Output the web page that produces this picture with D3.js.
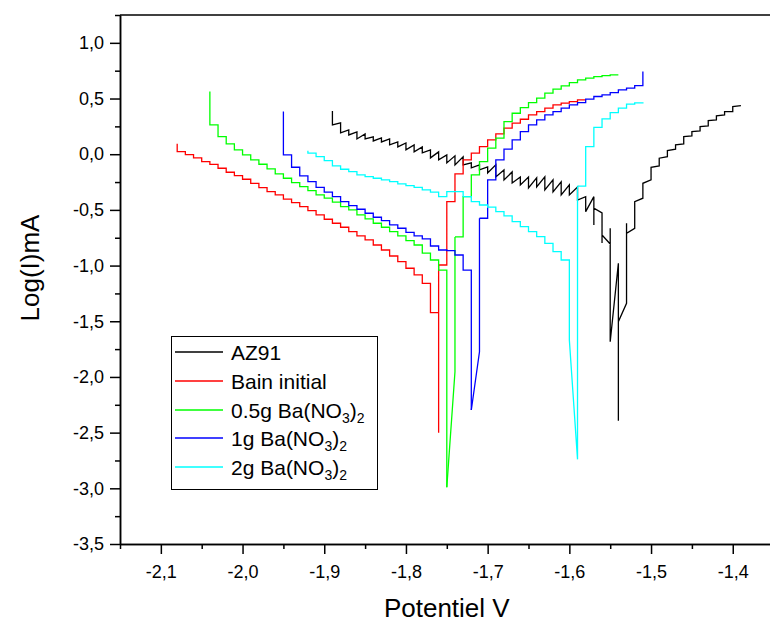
<!DOCTYPE html>
<html><head><meta charset="utf-8">
<script src="https://cdn.jsdelivr.net/npm/d3@7"></script>
<style>html,body{margin:0;padding:0;background:#fff;overflow:hidden}</style>
</head><body>
<svg id="chart" width="770" height="624"></svg>
<script>
// ---------- tick values ----------
const xTicks = [-2.1, -2.0, -1.9, -1.8, -1.7, -1.6, -1.5, -1.4];
const xMinor = [-2.15, -2.05, -1.95, -1.85, -1.75, -1.65, -1.55, -1.45, -1.35];
const yTicks = [-3.5, -3.0, -2.5, -2.0, -1.5, -1.0, -0.5, 0.0, 0.5, 1.0];
const yMinor = [-3.25, -2.75, -2.25, -1.75, -1.25, -0.75, -0.25, 0.25, 0.75, 1.25];

// ---------- legend ----------
const legendLabels = ["AZ91", "Bain initial", "0.5g Ba(NO_3)_2", "1g Ba(NO_3)_2", "2g Ba(NO_3)_2"];
const seriesColors = ["#000000", "#ff0000", "#00ff00", "#0000ff", "#00ffff"];

// ---------- AZ91 (polyline vertices: E / V, log I) ----------
const az91 = [
 [-1.89,0.389],[-1.89,0.263],[-1.88,0.281],[-1.88,0.191],[-1.87,0.218],[-1.87,0.173],
 [-1.86,0.200],[-1.86,0.137],[-1.85,0.182],[-1.85,0.137],[-1.84,0.155],[-1.84,0.119],
 [-1.83,0.146],[-1.83,0.110],[-1.82,0.137],[-1.82,0.084],[-1.81,0.110],[-1.81,0.066],
 [-1.80,0.101],[-1.80,0.039],[-1.79,0.084],[-1.79,0.021],[-1.78,0.066],[-1.78,0.012],
 [-1.77,0.039],[-1.77,-0.033],[-1.76,0.021],[-1.76,-0.051],[-1.75,-0.006],[-1.75,-0.078],
 [-1.74,-0.015],[-1.74,-0.096],[-1.73,-0.024],[-1.73,-0.096],[-1.72,-0.078],[-1.72,-0.123],
 [-1.71,-0.096],[-1.71,-0.141],[-1.70,-0.114],[-1.70,-0.168],[-1.69,-0.096],[-1.69,-0.204],
 [-1.68,-0.141],[-1.68,-0.231],[-1.67,-0.159],[-1.67,-0.258],[-1.66,-0.204],[-1.66,-0.276],
 [-1.65,-0.204],[-1.65,-0.303],[-1.64,-0.213],[-1.64,-0.294],[-1.63,-0.204],[-1.63,-0.321],
 [-1.62,-0.231],[-1.62,-0.339],[-1.61,-0.249],[-1.61,-0.366],[-1.60,-0.276],[-1.60,-0.366],
 [-1.59,-0.294],[-1.59,-0.411],[-1.58,-0.381],[-1.58,-0.516],[-1.57,-0.381],[-1.57,-0.635],
 [-1.57,-0.485],[-1.56,-0.527],[-1.56,-0.797],[-1.56,-0.725],[-1.55,-0.806],[-1.55,-0.665],
 [-1.55,-1.684],[-1.54,-0.979],[-1.54,-2.394],[-1.54,-1.504],[-1.53,-1.339],[-1.53,-0.620],
 [-1.53,-0.710],[-1.52,-0.665],[-1.52,-0.426],[-1.51,-0.395],[-1.51,-0.261],[-1.50,-0.231],
 [-1.50,-0.117],[-1.49,-0.105],[-1.49,-0.036],[-1.48,-0.022],[-1.48,0.032],[-1.47,0.045],
 [-1.47,0.084],[-1.46,0.093],[-1.46,0.158],[-1.45,0.164],[-1.45,0.203],[-1.44,0.209],
 [-1.44,0.248],[-1.43,0.254],[-1.43,0.302],[-1.42,0.308],[-1.42,0.344],[-1.41,0.353],
 [-1.41,0.383],[-1.40,0.383],[-1.40,0.428],[-1.39,0.437]
];

// ---------- Bain initial (staircase levels) ----------
const bainSteps = [
 [-2.08,0.093],[-2.08,0.023],[-2.07,-0.004],[-2.06,-0.033],[-2.05,-0.066],[-2.04,-0.092],
 [-2.03,-0.126],[-2.02,-0.162],[-2.01,-0.192],[-2.00,-0.225],[-1.99,-0.261],[-1.98,-0.300],
 [-1.97,-0.336],[-1.96,-0.366],[-1.95,-0.404],[-1.94,-0.435],[-1.93,-0.471],[-1.92,-0.507],
 [-1.91,-0.545],[-1.90,-0.584],[-1.89,-0.620],[-1.88,-0.656],[-1.87,-0.695],[-1.86,-0.734],
 [-1.85,-0.770],[-1.84,-0.815],[-1.83,-0.860],[-1.82,-0.914],[-1.81,-0.965],[-1.80,-1.024],
 [-1.79,-1.084],[-1.78,-1.159],[-1.77,-1.423],[-1.76,-1.464],[-1.76,-2.500],[-1.76,-0.995],
 [-1.75,-0.426],[-1.74,-0.177],[-1.73,-0.051],[-1.72,0.009],[-1.71,0.068],[-1.70,0.128],
 [-1.69,0.182],[-1.68,0.234],[-1.67,0.279],[-1.66,0.314],[-1.65,0.353],[-1.64,0.383],
 [-1.63,0.413],[-1.62,0.443],[-1.61,0.458],[-1.60,0.473],[-1.59,0.488],[-1.58,0.488]
];

// ---------- 0.5g Ba(NO3)2 ----------
const g05Cathodic = [
 [-2.04,0.563],[-2.04,0.263],[-2.03,0.158],[-2.02,0.093],[-2.01,0.039],[-2.00,-0.006],
 [-1.99,-0.051],[-1.98,-0.090],[-1.97,-0.132],[-1.96,-0.177],[-1.95,-0.216],[-1.94,-0.255],
 [-1.93,-0.291],[-1.92,-0.327],[-1.91,-0.366],[-1.90,-0.395],[-1.89,-0.431],[-1.88,-0.471],
 [-1.87,-0.500],[-1.86,-0.545],[-1.85,-0.581],[-1.84,-0.620],[-1.83,-0.656],[-1.82,-0.695],
 [-1.81,-0.734],[-1.80,-0.776],[-1.79,-0.815],[-1.78,-0.889],[-1.77,-0.950],[-1.76,-1.040],
 [-1.75,-2.990]
];
const g05Dip = [[-1.75,-2.990],[-1.74,-1.953],[-1.74,-0.743]];
const g05Anodic = [
 [-1.74,-0.743],[-1.73,-0.381],[-1.72,-0.186],[-1.71,-0.066],[-1.70,0.054],[-1.69,0.144],
 [-1.68,0.293],[-1.67,0.368],[-1.66,0.419],[-1.65,0.464],[-1.64,0.503],[-1.63,0.548],
 [-1.62,0.584],[-1.61,0.614],[-1.60,0.643],[-1.59,0.668],[-1.58,0.683],[-1.57,0.697],
 [-1.56,0.706],[-1.55,0.712],[-1.54,0.712]
];

// ---------- 1g Ba(NO3)2 ----------
const g1Cathodic = [
 [-1.95,0.383],[-1.95,-0.006],[-1.94,-0.117],[-1.93,-0.195],[-1.92,-0.246],[-1.91,-0.297],
 [-1.90,-0.341],[-1.89,-0.381],[-1.88,-0.426],[-1.87,-0.462],[-1.86,-0.494],[-1.85,-0.530],
 [-1.84,-0.566],[-1.83,-0.596],[-1.82,-0.635],[-1.81,-0.665],[-1.80,-0.701],[-1.79,-0.734],
 [-1.78,-0.760],[-1.77,-0.824],[-1.76,-0.860],[-1.75,-0.866],[-1.74,-0.905],[-1.73,-1.040],
 [-1.72,-2.297]
];
const g1Dip = [[-1.72,-2.297],[-1.71,-1.774],[-1.71,-0.575]];
const g1Anodic = [
 [-1.71,-0.575],[-1.70,-0.231],[-1.69,-0.051],[-1.68,0.045],[-1.67,0.128],[-1.66,0.203],
 [-1.65,0.263],[-1.64,0.308],[-1.63,0.353],[-1.62,0.383],[-1.61,0.413],[-1.60,0.443],
 [-1.59,0.464],[-1.58,0.494],[-1.57,0.518],[-1.56,0.533],[-1.55,0.553],[-1.54,0.578],
 [-1.53,0.593],[-1.52,0.616],[-1.51,0.742]
];

// ---------- 2g Ba(NO3)2 ----------
const g2Cathodic = [
 [-1.92,0.032],[-1.92,0.009],[-1.91,-0.022],[-1.90,-0.058],[-1.89,-0.105],[-1.88,-0.135],
 [-1.87,-0.156],[-1.86,-0.186],[-1.85,-0.201],[-1.84,-0.216],[-1.83,-0.231],[-1.82,-0.246],
 [-1.81,-0.267],[-1.80,-0.282],[-1.79,-0.297],[-1.78,-0.321],[-1.77,-0.341],[-1.76,-0.381],
 [-1.75,-0.336],[-1.73,-0.381],[-1.72,-0.426],[-1.71,-0.456],[-1.70,-0.476],[-1.69,-0.516],
 [-1.68,-0.554],[-1.67,-0.606],[-1.66,-0.650],[-1.65,-0.695],[-1.64,-0.740],[-1.63,-0.800],
 [-1.62,-0.875],[-1.61,-0.950],[-1.60,-1.668]
];
const g2Dip = [[-1.60,-1.668],[-1.59,-2.740],[-1.59,-0.287]];
const g2Anodic = [
 [-1.59,-0.287],[-1.58,0.068],[-1.57,0.241],[-1.56,0.317],[-1.55,0.374],[-1.54,0.413],
 [-1.53,0.449],[-1.52,0.461],[-1.51,0.467]
];

// ---------- layout ----------
const svg = d3.select("#chart");
const FONT = "'Liberation Sans', Arial, sans-serif";
svg.append("rect").attr("width",770).attr("height",624).attr("fill","#fff");

const x = d3.scaleLinear().domain([-2.15, -1.35]).range([120, 773.6]);
const y = d3.scaleLinear().domain([-3.5, 1.25]).range([544, 15]);

const fmt = v => (v < -1e-9 ? "-" : "") + Math.abs(v).toFixed(1).replace(".", ",");

function styleAxis(g) {
  g.select(".domain").attr("stroke","#000").attr("stroke-width",1.5);
  g.selectAll(".tick line").attr("stroke","#000").attr("stroke-width",1.5);
  g.selectAll(".tick text").attr("fill","#000").style("font-family",FONT).style("font-size","18px");
}

// minor ticks
svg.append("g").attr("transform","translate(0,544)")
  .call(d3.axisBottom(x).tickValues(xMinor).tickSize(5).tickSizeOuter(0).tickFormat(""))
  .call(styleAxis);
svg.append("g").attr("transform","translate(120,0)")
  .call(d3.axisLeft(y).tickValues(yMinor).tickSize(5).tickSizeOuter(0).tickFormat(""))
  .call(styleAxis);
// major ticks
svg.append("g").attr("transform","translate(0,544)")
  .call(d3.axisBottom(x).tickValues(xTicks).tickSize(10).tickPadding(11).tickSizeOuter(0).tickFormat(fmt))
  .call(styleAxis);
svg.append("g").attr("transform","translate(120,0)")
  .call(d3.axisLeft(y).tickValues(yTicks).tickSize(10).tickPadding(6).tickSizeOuter(0).tickFormat(fmt))
  .call(styleAxis);
// top border
svg.append("line").attr("x1",x(-2.15)).attr("x2",x(-1.35)).attr("y1",y(1.25)).attr("y2",y(1.25))
  .attr("stroke","#000").attr("stroke-width",1.5);

// axis titles
svg.append("text").attr("x",(x(-2.15)+x(-1.35))/2).attr("y",617).attr("text-anchor","middle")
  .style("font-family",FONT).style("font-size","26px").attr("fill","#000").text("Potentiel V");
svg.append("text").attr("transform","translate(39,268) rotate(-90)").attr("text-anchor","middle")
  .style("font-family",FONT).style("font-size","26px").attr("fill","#000").text("Log(I)mA");

// ---------- curves ----------
const stepLine = d3.line().x(d=>x(d[0])).y(d=>y(d[1])).curve(d3.curveStepAfter);
const polyLine = d3.line().x(d=>x(d[0])).y(d=>y(d[1])).curve(d3.curveLinear);
const plot = svg.append("g").attr("fill","none").attr("stroke-width",1.3).attr("stroke-linejoin","miter");

const pieces = [
  [az91, polyLine, 0],
  [bainSteps, stepLine, 1],
  [g05Cathodic, stepLine, 2], [g05Dip, polyLine, 2], [g05Anodic, stepLine, 2],
  [g1Cathodic, stepLine, 3], [g1Dip, polyLine, 3], [g1Anodic, stepLine, 3],
  [g2Cathodic, stepLine, 4], [g2Dip, polyLine, 4], [g2Anodic, stepLine, 4]
];
pieces.forEach(([data, gen, ci]) => {
  plot.append("path").attr("d", gen(data)).attr("stroke", seriesColors[ci]);
});

// ---------- legend ----------
const lg = svg.append("g");
lg.append("rect").attr("x",171.5).attr("y",336.5).attr("width",206).attr("height",153)
  .attr("fill","#fff").attr("stroke","#000").attr("stroke-width",1);
legendLabels.forEach((lab, i) => {
  const ry = Math.round(352 + i * 28.75);
  lg.append("line").attr("x1",175).attr("x2",223).attr("y1",ry).attr("y2",ry)
    .attr("stroke",seriesColors[i]).attr("stroke-width",1.6);
  const t = lg.append("text").attr("x",231).attr("y",ry+7.5)
    .style("font-family",FONT).style("font-size","21px").attr("fill","#000");
  let prevSub = false;
  lab.split(/(_\d)/).filter(s => s.length).forEach(part => {
    if (part.startsWith("_")) {
      t.append("tspan").attr("dy",5).style("font-size","14px").text(part.slice(1));
      prevSub = true;
    } else {
      const ts = t.append("tspan").text(part);
      if (prevSub) ts.attr("dy",-5);
      prevSub = false;
    }
  });
});
</script>
</body></html>
